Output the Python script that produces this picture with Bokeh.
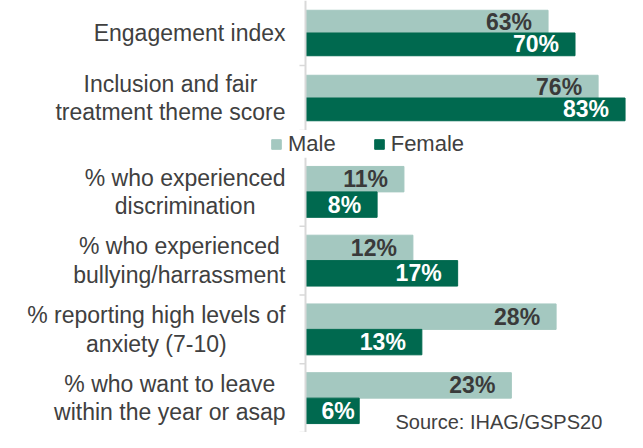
from bokeh.plotting import figure
from bokeh.layouts import column
from bokeh.models import ColumnDataSource, Range1d, FactorRange, Span, Legend, LegendItem
from bokeh.transform import dodge
from bokeh.core.properties import value
from bokeh.embed import file_html
from bokeh.resources import INLINE

# ---------------- data ----------------
top_categories = ["Engagement index", "Inclusion and fair\ntreatment theme score"]
top_male = [63, 76]
top_female = [70, 83]

bottom_categories = [
    "% who experienced\ndiscrimination",
    "% who experienced\nbullying/harrassment",
    "% reporting high levels of\nanxiety (7-10)",
    "% who want to leave\nwithin the year or asap",
]
bottom_male = [11, 12, 28, 23]
bottom_female = [8, 17, 13, 6]

series_names = ["Male", "Female"]
source_note = "Source: IHAG/GSPS20"

# ---------------- style ----------------
MALE_COLOR = "#A4C8C0"
FEMALE_COLOR = "#00694F"
TEXT_COLOR = "#404040"
AXIS_COLOR = "#D9D9D9"
FONT = "Liberation Sans"
W = 627
AXIS_PX = 305          # position of the value axis inside the canvas
LABEL_GAP_PX = 20      # gap between category label block and axis
TICK_PX = 6
PAD_PX = 16            # inner padding of value labels
FS = "23px"


def base_fig(height, x_range, y_range):
    p = figure(width=W, height=height, x_range=x_range, y_range=y_range,
               output_backend="svg", toolbar_location=None,
               x_axis_location=None, y_axis_location=None,
               min_border=0, outline_line_color=None,
               background_fill_color=None, border_fill_color=None)
    p.xgrid.visible = False
    p.ygrid.visible = False
    return p


def make_panel(cats, male, female, ppu, height, bar_h):
    p = base_fig(height, Range1d(-AXIS_PX / ppu, (W - AXIS_PX) / ppu),
                 FactorRange(*list(reversed(cats))))

    src = ColumnDataSource(dict(cat=cats, male=male, female=female))
    p.hbar(y=dodge("cat", bar_h / 2, range=p.y_range), left=0, right="male",
           height=bar_h, fill_color=MALE_COLOR, line_color=MALE_COLOR, source=src)
    p.hbar(y=dodge("cat", -bar_h / 2, range=p.y_range), left=0, right="female",
           height=bar_h, fill_color=FEMALE_COLOR, line_color=FEMALE_COLOR, source=src)

    # axis line and boundary ticks
    p.add_layout(Span(location=0, dimension="height", line_color=AXIS_COLOR, line_width=2))
    p.segment(x0=-TICK_PX / ppu, x1=0,
              y0=dodge("cat", -0.5, range=p.y_range), y1=dodge("cat", -0.5, range=p.y_range),
              line_color=AXIS_COLOR, line_width=1.5, source=src)

    # category labels
    p.text(x=[-LABEL_GAP_PX / ppu] * len(cats), y=cats, text=cats,
           text_align="center", anchor="center_right", text_baseline="middle",
           text_font=value(FONT), text_font_size=FS, text_color=TEXT_COLOR,
           text_line_height=1.09)

    # value labels
    for vals, off, col in ((male, bar_h / 2, "#3A3A3A"), (female, -bar_h / 2, "white")):
        long_ = [(c, v) for c, v in zip(cats, vals) if v * ppu >= 60]
        short = [(c, v) for c, v in zip(cats, vals) if v * ppu < 60]
        if long_:
            s = ColumnDataSource(dict(cat=[c for c, _ in long_], v=[v for _, v in long_],
                                      t=[f"{v}%" for _, v in long_]))
            p.text(x="v", y=dodge("cat", off, range=p.y_range), text="t", source=s,
                   x_offset=-PAD_PX, text_align="right", text_baseline="middle",
                   text_font=value(FONT), text_font_size=FS, text_font_style="bold",
                   text_color=col)
        if short:
            s = ColumnDataSource(dict(cat=[c for c, _ in short], v=[0] * len(short),
                                      t=[f"{v}%" for _, v in short]))
            p.text(x="v", y=dodge("cat", off, range=p.y_range), text="t", source=s,
                   x_offset=PAD_PX, text_align="left", text_baseline="middle",
                   text_font=value(FONT), text_font_size=FS, text_font_style="bold",
                   text_color=col)
    return p


TOP_PPU = 3.85
BOT_PPU = 8.95
TOP_H = 130
LEG_H = 27
BOT_H = 275

p_top = make_panel(top_categories, top_male, top_female, TOP_PPU, TOP_H, 0.35)
p_bot = make_panel(bottom_categories, bottom_male, bottom_female, BOT_PPU, BOT_H, 0.37)

# legend strip (proxy glyphs sit outside the visible range; only their swatches show)
p_leg = base_fig(LEG_H, Range1d(0, 1), Range1d(0, 1))
lm = p_leg.rect(x=[-5], y=[-5], width=1, height=1, fill_color=MALE_COLOR, line_color=MALE_COLOR)
lf = p_leg.rect(x=[-5], y=[-5], width=1, height=1, fill_color=FEMALE_COLOR, line_color=FEMALE_COLOR)
legend = Legend(items=[LegendItem(label=series_names[0], renderers=[lm]),
                       LegendItem(label=series_names[1], renderers=[lf])],
                orientation="horizontal", location=(270, 0),
                glyph_width=12, glyph_height=12, label_standoff=6, spacing=37,
                padding=0, margin=0, border_line_color=None, background_fill_alpha=0,
                label_text_font=FONT, label_text_font_size="22px",
                label_text_color=TEXT_COLOR)
p_leg.add_layout(legend)

# source note
note_src = ColumnDataSource(dict(x=[(395 - AXIS_PX) / BOT_PPU], y=[bottom_categories[-1]],
                                 t=[source_note]))
p_bot.text(x="x", y=dodge("y", -0.5, range=p_bot.y_range), text="t", source=note_src,
           text_align="left", text_baseline="bottom", text_font=value(FONT),
           text_font_size="20px", text_color=TEXT_COLOR)

layout = column(p_top, p_leg, p_bot, spacing=0)
open("out.html", "w").write(file_html(layout, INLINE))
